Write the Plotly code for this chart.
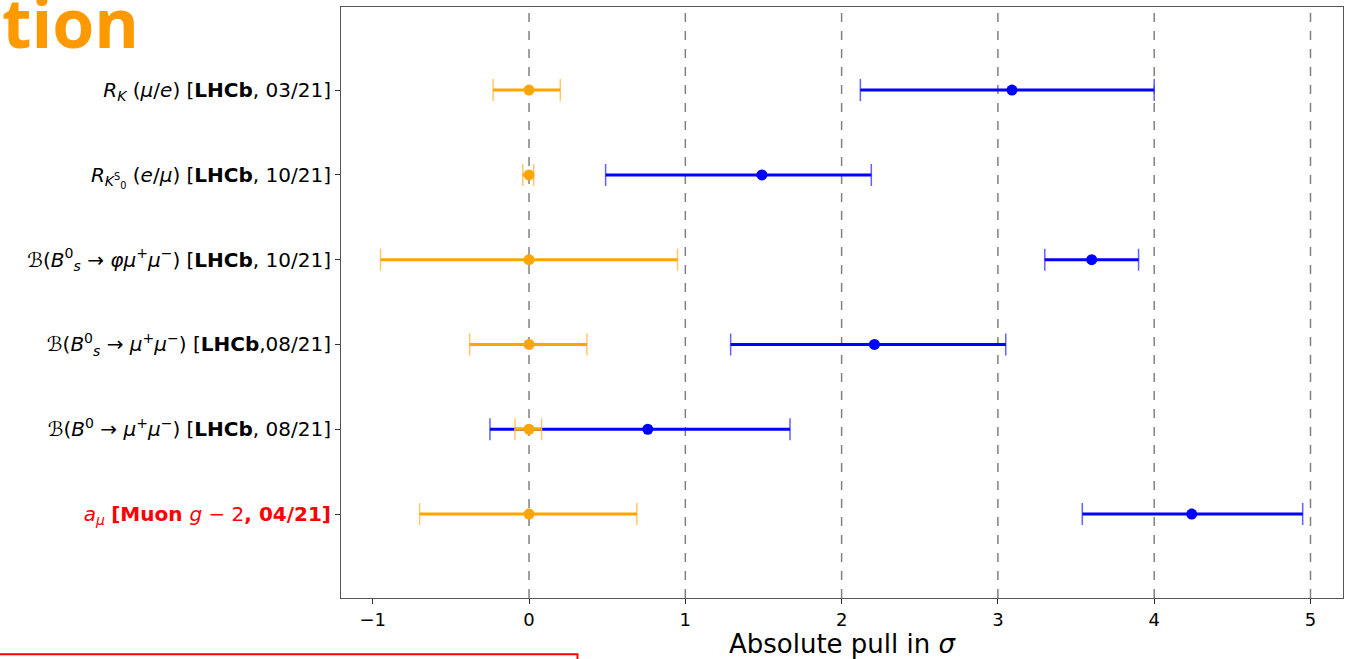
import plotly.graph_objects as go

# Measurements, listed from top row to bottom row
labels = [
    "<i>R<sub>K</sub></i> (<i>μ</i>/<i>e</i>) [<b>LHCb</b>, 03/21]",
    "<i>R</i><sub><i>K</i><sup>S</sup><sub>0</sub></sub> (<i>e</i>/<i>μ</i>) [<b>LHCb</b>, 10/21]",
    "ℬ(<i>B</i><sup>0</sup><sub><i>s</i></sub> → <i>φμ</i><sup>+</sup><i>μ</i><sup>−</sup>) [<b>LHCb</b>, 10/21]",
    "ℬ(<i>B</i><sup>0</sup><sub><i>s</i></sub> → <i>μ</i><sup>+</sup><i>μ</i><sup>−</sup>) [<b>LHCb</b>,08/21]",
    "ℬ(<i>B</i><sup>0</sup> → <i>μ</i><sup>+</sup><i>μ</i><sup>−</sup>) [<b>LHCb</b>, 08/21]",
    "<span style='color:#ff0000'><i>a<sub>μ</sub></i> <b>[Muon </b><i>g</i> − 2<b>, 04/21]</b></span>",
]
rows = [5, 4, 3, 2, 1, 0]

# Standard Model reference (centred at zero) with its uncertainty
sm_value = [0, 0, 0, 0, 0, 0]
sm_err_lo = [0.23, 0.04, 0.95, 0.38, 0.09, 0.70]
sm_err_hi = [0.20, 0.03, 0.95, 0.37, 0.08, 0.69]

# Measured pulls with their uncertainty
exp_value = [3.09, 1.49, 3.60, 2.21, 0.76, 4.24]
exp_err_lo = [0.97, 1.00, 0.30, 0.92, 1.01, 0.70]
exp_err_hi = [0.91, 0.70, 0.30, 0.84, 0.91, 0.71]

grid_x = [0, 1, 2, 3, 4, 5]
x_ticks = [-1, 0, 1, 2, 3, 4, 5]
x_ticktext = ["−1", "0", "1", "2", "3", "4", "5"]

ORANGE = "#ffa500"
BLUE = "#0000ff"


def bar_segments(vals, lo, hi, ys):
    xs, yy = [], []
    for v, l, h, y in zip(vals, lo, hi, ys):
        xs += [v - l, v + h, None]
        yy += [y, y, None]
    return xs, yy


fig = go.Figure()

for vals, lo, hi, col, cap in [
    (exp_value, exp_err_lo, exp_err_hi, BLUE, "rgba(70,70,255,0.85)"),
    (sm_value, sm_err_lo, sm_err_hi, ORANGE, "rgba(255,190,80,0.85)"),
]:
    # thin caps (the error bar itself is redrawn thicker on top)
    fig.add_trace(go.Scatter(
        x=vals, y=rows, mode="markers",
        marker=dict(color=col, size=1, opacity=0),
        error_x=dict(type="data", symmetric=False, array=hi, arrayminus=lo,
                     color=cap, thickness=1.5, width=11),
        hoverinfo="skip", showlegend=False,
    ))
    # thick horizontal error bar
    bx, by = bar_segments(vals, lo, hi, rows)
    fig.add_trace(go.Scatter(x=bx, y=by, mode="lines",
                             line=dict(color=col, width=3),
                             hoverinfo="skip", showlegend=False))
    # central value
    fig.add_trace(go.Scatter(x=vals, y=rows, mode="markers",
                             marker=dict(color=col, size=11),
                             showlegend=False))

shapes = []
for gx in grid_x:
    shapes.append(dict(type="line", xref="x", yref="paper", x0=gx, x1=gx,
                       y0=0, y1=1, layer="below",
                       line=dict(color="#808080", width=1.5, dash="dash")))
# red frame at the lower left of the slide
shapes.append(dict(type="rect", xref="paper", yref="paper",
                   x0=-0.345, x1=0.236, y0=-0.095, y1=-0.2,
                   line=dict(color="#ff0000", width=2), fillcolor="rgba(0,0,0,0)"))

fig.update_layout(
    width=1351, height=659,
    margin=dict(l=341, r=8, t=7, b=61),
    paper_bgcolor="white", plot_bgcolor="white",
    font=dict(family="DejaVu Sans", color="black"),
    shapes=shapes,
    xaxis=dict(
        range=[-1.203, 5.208], tickvals=x_ticks, ticktext=x_ticktext,
        showgrid=False, zeroline=False,
        ticks="outside", ticklen=5, tickwidth=1, tickcolor="#333",
        tickfont=dict(size=18, family="DejaVu Sans"),
        showline=True, linecolor="#555", linewidth=1, mirror=True,
        title=dict(text="Absolute pull in <i>σ</i>",
                   font=dict(size=26, family="DejaVu Sans"), standoff=0),
    ),
    yaxis=dict(
        range=[-0.99, 5.98], tickvals=rows, ticktext=labels,
        showgrid=False, zeroline=False,
        ticks="outside", ticklen=5, tickwidth=1, tickcolor="#333",
        tickfont=dict(size=20, family="DejaVu Sans"),
        showline=True, linecolor="#555", linewidth=1, mirror=True,
    ),
    annotations=[dict(
        text="<b>tion</b>", xref="paper", yref="paper",
        x=-0.3405, y=1.058, xanchor="left", yanchor="top",
        showarrow=False,
        font=dict(family="Open Sans", size=68, color="#ff9900"),
    )],
)

fig.write_html("out.html")
